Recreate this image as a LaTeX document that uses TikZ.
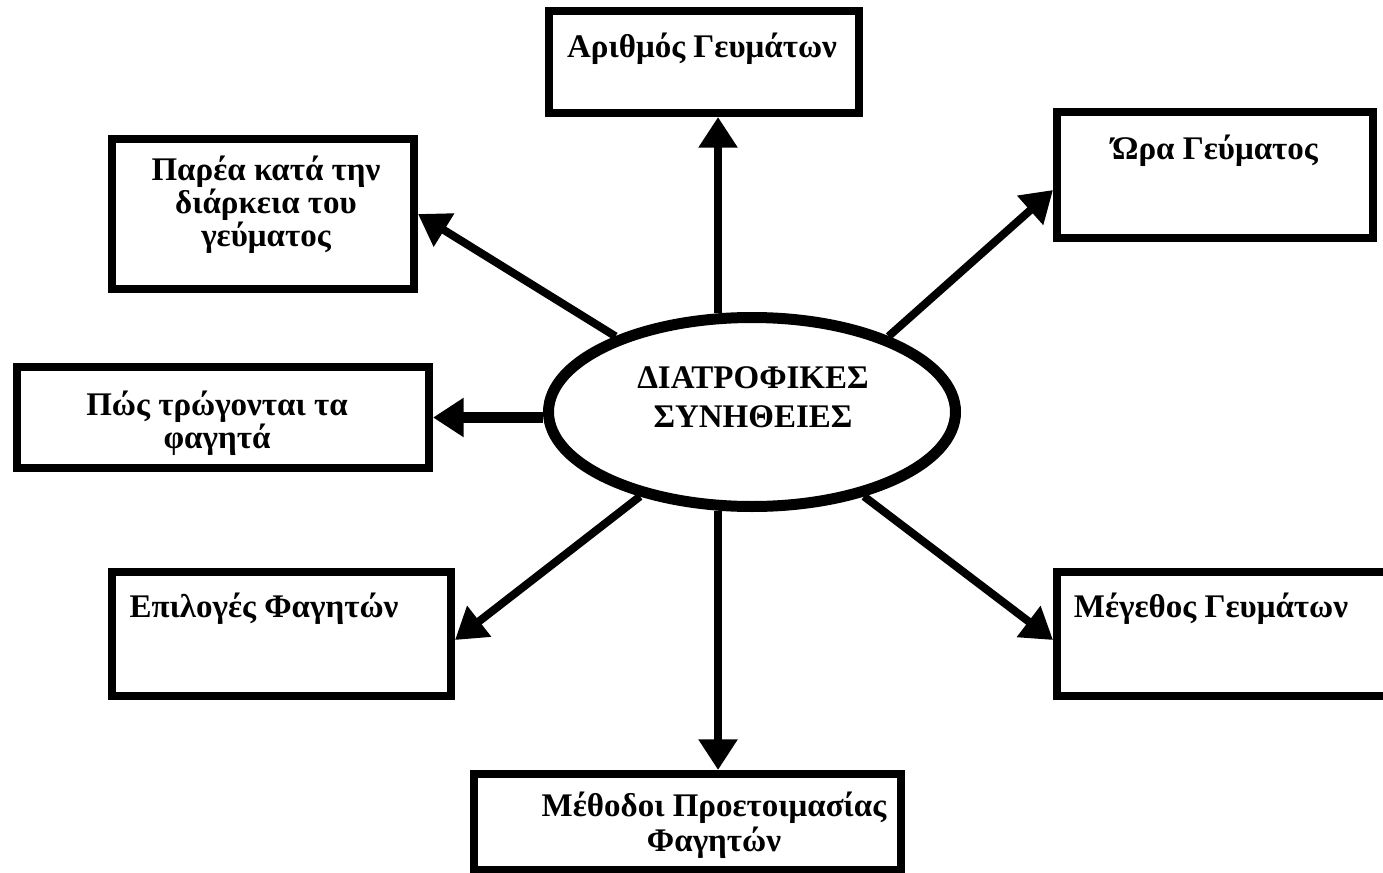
\documentclass[tikz,border=0pt]{standalone}
\usepackage{fontspec}
\setmainfont{Liberation Serif}
\usetikzlibrary{shapes.geometric,arrows.meta,calc}
\begin{document}
\begin{tikzpicture}[x=0.75pt,y=-0.75pt,
  box/.style={draw, line width=6pt, rectangle, inner sep=0pt},
  lbl/.style={inner sep=0pt, anchor=base, align=center},
  fnt/.style={font=\fontsize{24.75}{#1}\selectfont\bfseries},
  arr/.style={line width=6pt, -{Triangle[length=23pt,width=28pt]}}]
\clip (0,0) rectangle (1383,873);
% boxes
\node[box, minimum width=310*0.75pt, minimum height=102*0.75pt] (b1) at (704,62) {};
\node[box, minimum width=316*0.75pt, minimum height=126*0.75pt] (b2) at (1215,175) {};
\node[box, minimum width=302*0.75pt, minimum height=150*0.75pt] (b3) at (263,214) {};
\node[box, minimum width=412*0.75pt, minimum height=101*0.75pt] (b4) at (223,417.5) {};
\node[box, minimum width=339*0.75pt, minimum height=124*0.75pt] (b5) at (281.5,634) {};
\node[box, minimum width=339*0.75pt, minimum height=124*0.75pt] (b6) at (1226.5,634) {};
\node[box, minimum width=427*0.75pt, minimum height=96*0.75pt] (b7) at (687.5,822) {};
% ellipse
\node[ellipse, draw, line width=8.25pt, minimum width=407*0.75pt, minimum height=189*0.75pt, inner sep=0pt] (ell) at (752,412) {};
% texts (base anchor = last line)
\node[lbl, fnt=25.5pt] (t1) at (702,58) {Αριθμός Γευμάτων};
\node[lbl, fnt=25.5pt] (t2) at (1215,160) {Ώρα Γεύματος};
\node[lbl, fnt=25.1pt] (t3) at (266,247) {Παρέα κατά την\\διάρκεια του\\γεύματος};
\node[lbl, fnt=23.6pt] (t4) at (217,448) {Πώς τρώγονται τα\\φαγητά};
\node[lbl, fnt=25.5pt] (t5) at (264,617) {Επιλογές Φαγητών};
\node[lbl, fnt=25.5pt] (t6) at (1211,617) {Μέγεθος Γευμάτων};
\node[lbl, fnt=26.25pt] (t7) at (714,851) {Μέθοδοι Προετοιμασίας\\Φαγητών};
\node[lbl, fnt=29.25pt] (t0) at (753,427) {ΔΙΑΤΡΟΦΙΚΕΣ\\ΣΥΝΗΘΕΙΕΣ};
% arrows
\draw[arr] (ell.109) -- (ell.109 |- b1.south);
\draw[arr] (ell.151) -- (b3.east);
\draw[arr] (ell.29) -- ($(b2.west)+(0,15)$);
\draw[arr] (ell.217) -- ($(b5.east)+(0,6)$);
\draw[arr] (ell.323) -- ($(b6.west)+(0,6)$);
\draw[arr] (ell.251) -- (ell.251 |- b7.north);
\draw[arr, line width=8.25pt] (ell.west |- b4.east) -- (b4.east);
\end{tikzpicture}
\end{document}
